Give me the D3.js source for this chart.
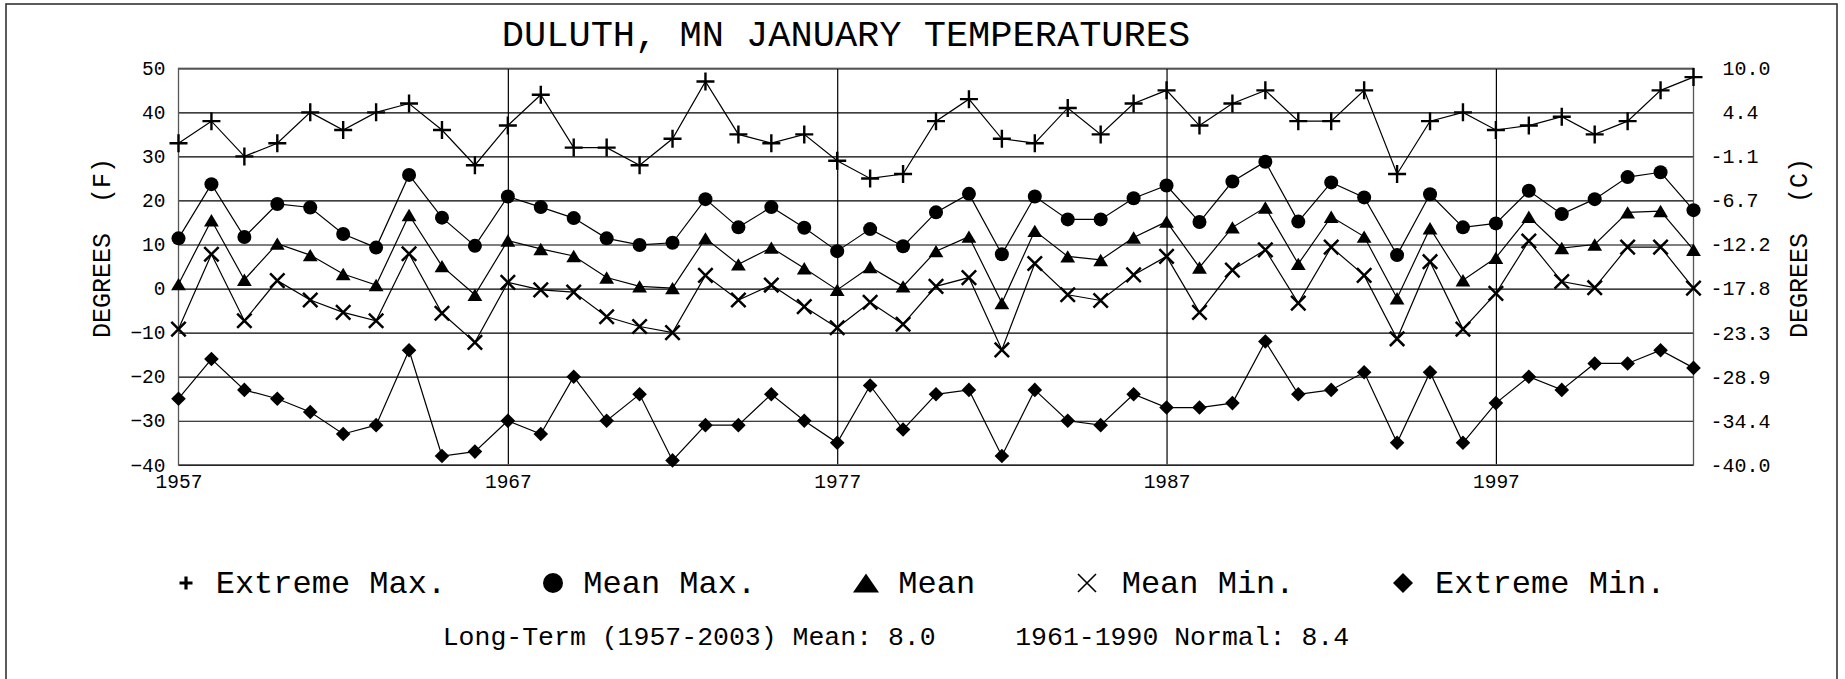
<!DOCTYPE html>
<html lang="en">
<head>
<meta charset="UTF-8">
<title>Duluth, MN January Temperatures</title>
<style>
  body { margin: 0; background: #fff; }
  svg text { font-family: "Liberation Mono", "Courier New", monospace; fill: #000; }
</style>
</head>
<body>
<div id="chart"></div>
<script src="https://d3js.org/d3.v7.min.js"></script>
<script>
// data (January, degrees F)
const years = [1957,1958,1959,1960,1961,1962,1963,1964,1965,1966,1967,1968,
  1969,1970,1971,1972,1973,1974,1975,1976,1977,1978,1979,1980,
  1981,1982,1983,1984,1985,1986,1987,1988,1989,1990,1991,1992,
  1993,1994,1995,1996,1997,1998,1999,2000,2001,2002,2003];

const extremeMax = [33,38,30,33,40,36,40,42,36,28,37,44,
  32,32,28,34,47,35,33,35,29,25,26,38,
  43,34,33,41,35,42,45,37,42,45,38,38,
  45,26,38,40,36,37,39,35,38,45,48];

const meanMax = [11.4,23.7,11.7,19.2,18.4,12.4,9.3,25.8,16.1,9.7,20.9,18.5,
  16.0,11.4,9.9,10.4,20.3,13.9,18.5,13.8,8.5,13.5,9.6,17.3,
  21.5,7.8,20.9,15.7,15.7,20.5,23.4,15.1,24.3,28.8,15.2,24.1,
  20.7,7.6,21.4,13.9,14.8,22.2,16.9,20.3,25.3,26.4,17.8];

const meanTemp = [1.0,15.5,2.0,10.2,7.6,3.3,0.8,16.7,5.1,-1.4,10.9,9.0,
  7.4,2.5,0.5,0.1,11.4,5.5,9.3,4.6,-0.3,4.9,0.5,8.5,
  11.8,-3.3,13.1,7.3,6.5,11.6,15.2,4.8,13.9,18.4,5.6,16.3,
  11.8,-2.2,13.7,1.9,7.0,16.3,9.2,10.0,17.3,17.6,8.8];

const meanMin = [-9.2,7.8,-7.3,1.8,-2.6,-5.4,-7.3,7.9,-5.6,-12.2,1.4,-0.3,
  -0.8,-6.4,-8.6,-10.0,3.0,-2.6,0.8,-4.1,-8.9,-3.1,-8.1,0.5,
  2.5,-13.9,5.7,-1.4,-2.7,3.1,7.3,-5.4,4.2,8.8,-3.3,9.4,
  3.0,-11.4,6.1,-9.2,-1.1,10.8,1.6,0.2,9.4,9.4,0.1];

const extremeMin = [-25,-16,-23,-25,-28,-33,-31,-14,-38,-37,-30,-33,
  -20,-30,-24,-39,-31,-31,-24,-30,-35,-22,-32,-24,
  -23,-38,-23,-30,-31,-24,-27,-27,-26,-12,-24,-23,
  -19,-35,-19,-35,-26,-20,-23,-17,-17,-14,-18];

const seriesNames = ["Extreme Max.", "Mean Max.", "Mean", "Mean Min.", "Extreme Min."];
const fTicks = [-40,-30,-20,-10,0,10,20,30,40,50];
const cLabels = ["-40.0","-34.4","-28.9","-23.3","-17.8","-12.2","-6.7","-1.1"," 4.4"," 10.0"];
const yearTicks = [1957,1967,1977,1987,1997];

const titleText = "DULUTH, MN JANUARY TEMPERATURES";
const footText = "Long-Term (1957-2003) Mean: 8.0     1961-1990 Normal: 8.4";

const w = 1845, h = 679;
const plotLeft = 178.5, plotRight = 1693.5, plotTop = 68.3, plotBottom = 464.8;

const svg = d3.select("#chart").append("svg")
  .attr("width", w)
  .attr("height", h);

// outer frame
svg.append("rect")
  .attr("x", 6).attr("y", 4)
  .attr("width", 1831).attr("height", 700)
  .attr("fill", "none")
  .attr("stroke", "#333")
  .attr("stroke-width", 1.6);

const x = d3.scaleLinear().domain([1957, 2003]).range([plotLeft, plotRight]);
const y = d3.scaleLinear().domain([-40, 50]).range([plotBottom, plotTop]);

// horizontal grid
svg.append("g")
  .attr("transform", "translate(" + plotLeft + ",0)")
  .call(d3.axisLeft(y).tickValues(fTicks).tickSize(-(plotRight - plotLeft)).tickFormat(""))
  .call(g => g.select(".domain").remove())
  .call(g => g.selectAll("line").attr("stroke", "#000").attr("stroke-width", 1.2));

// vertical grid
svg.append("g")
  .attr("transform", "translate(0," + plotBottom + ")")
  .call(d3.axisBottom(x).tickValues(yearTicks.slice(1)).tickSize(-(plotBottom - plotTop)).tickFormat(""))
  .call(g => g.select(".domain").remove())
  .call(g => g.selectAll("line").attr("stroke", "#000").attr("stroke-width", 1.2));

// plot frame
svg.append("rect")
  .attr("x", plotLeft).attr("y", plotTop)
  .attr("width", plotRight - plotLeft).attr("height", plotBottom - plotTop)
  .attr("fill", "none")
  .attr("stroke", "#555")
  .attr("stroke-width", 1.3);

// left axis (F)
svg.append("g")
  .attr("transform", "translate(" + plotLeft + ",0)")
  .call(d3.axisLeft(y).tickValues(fTicks).tickSize(0).tickPadding(13))
  .call(g => g.select(".domain").remove())
  .call(g => g.selectAll("text")
    .style("font-family", '"Liberation Mono", monospace')
    .style("font-size", "19.5px")
    .attr("fill", "#000"));

// right axis (C)
svg.append("g")
  .attr("transform", "translate(" + plotRight + ",0)")
  .call(d3.axisRight(y).tickValues(fTicks).tickSize(0).tickPadding(17)
    .tickFormat((d, i) => cLabels[i]))
  .call(g => g.select(".domain").remove())
  .call(g => g.selectAll("text")
    .attr("xml:space", "preserve")
    .style("white-space", "pre")
    .style("font-family", '"Liberation Mono", monospace')
    .style("font-size", "20px")
    .attr("fill", "#000"));

// bottom axis (years)
svg.append("g")
  .attr("transform", "translate(0," + plotBottom + ")")
  .call(d3.axisBottom(x).tickValues(yearTicks).tickSize(0).tickPadding(9).tickFormat(d3.format("d")))
  .call(g => g.select(".domain").remove())
  .call(g => g.selectAll("text")
    .style("font-family", '"Liberation Mono", monospace')
    .style("font-size", "19.5px")
    .attr("fill", "#000"));

// titles
svg.append("text")
  .attr("x", 846).attr("y", 46)
  .attr("text-anchor", "middle")
  .style("font-size", "37px")
  .text(titleText);

svg.append("text")
  .attr("transform", "translate(110,248) rotate(-90)")
  .attr("text-anchor", "middle")
  .attr("xml:space", "preserve")
  .style("white-space", "pre")
  .style("font-size", "25px")
  .text("DEGREES  (F)");

svg.append("text")
  .attr("transform", "translate(1807,248) rotate(-90)")
  .attr("text-anchor", "middle")
  .attr("xml:space", "preserve")
  .style("white-space", "pre")
  .style("font-size", "25px")
  .text("DEGREES  (C)");

// marker shapes
const plusPath = s => "M" + (-s) + ",0H" + s + "M0," + (-s) + "V" + s;
const xPath = s => "M" + (-s) + "," + (-s) + "L" + s + "," + s + "M" + (-s) + "," + s + "L" + s + "," + (-s);
const diamondPath = s => "M0," + (-s) + "L" + s + ",0L0," + s + "L" + (-s) + ",0Z";
const trianglePath = (hw, hh) => "M0," + (-hh) + "L" + hw + "," + hh + "L" + (-hw) + "," + hh + "Z";

const series = [
  { name: seriesNames[0], values: extremeMax, marker: "plus" },
  { name: seriesNames[1], values: meanMax, marker: "circle" },
  { name: seriesNames[2], values: meanTemp, marker: "triangle" },
  { name: seriesNames[3], values: meanMin, marker: "x" },
  { name: seriesNames[4], values: extremeMin, marker: "diamond" }
];

const line = d3.line()
  .x((d, i) => x(years[i]))
  .y(d => y(d));

const drawMarker = (sel, type, big) => {
  if (type === "circle") {
    sel.append("circle").attr("r", big ? 10 : 7).attr("fill", "#000");
  } else if (type === "plus") {
    sel.append("path").attr("d", plusPath(big ? 6.5 : 9))
      .attr("stroke", "#000").attr("stroke-width", big ? 3.2 : 2.4).attr("fill", "none");
  } else if (type === "x") {
    sel.append("path").attr("d", xPath(big ? 9 : 7.2))
      .attr("stroke", "#000").attr("stroke-width", big ? 1.6 : 2.5).attr("fill", "none");
  } else if (type === "triangle") {
    sel.append("path").attr("d", big ? trianglePath(13, 9.5) : trianglePath(7.4, 6.2)).attr("fill", "#000");
  } else if (type === "diamond") {
    sel.append("path").attr("d", diamondPath(big ? 10 : 7.3)).attr("fill", "#000");
  }
};

series.forEach(s => {
  svg.append("path")
    .datum(s.values)
    .attr("d", line)
    .attr("fill", "none")
    .attr("stroke", "#000")
    .attr("stroke-width", 1.2);

  svg.append("g").selectAll("g")
    .data(s.values)
    .enter()
    .append("g")
    .attr("transform", (d, i) => "translate(" + x(years[i]) + "," + y(d) + ")")
    .each(function () { drawMarker(d3.select(this), s.marker, false); });
});

// legend
const legendMarkX = [186, 553, 866, 1087, 1403];
const legendTextX = [215.7, 583.3, 898.3, 1121.7, 1435];
const legend = svg.append("g");
series.forEach((s, i) => {
  const m = legend.append("g").attr("transform", "translate(" + legendMarkX[i] + ",583)");
  drawMarker(m, s.marker, true);
  legend.append("text")
    .attr("x", legendTextX[i]).attr("y", 592.5)
    .style("font-size", "32px")
    .text(s.name);
});

svg.append("text")
  .attr("x", 442.7).attr("y", 645)
  .attr("xml:space", "preserve")
  .style("white-space", "pre")
  .style("font-size", "26.5px")
  .text(footText);
</script>
</body>
</html>
